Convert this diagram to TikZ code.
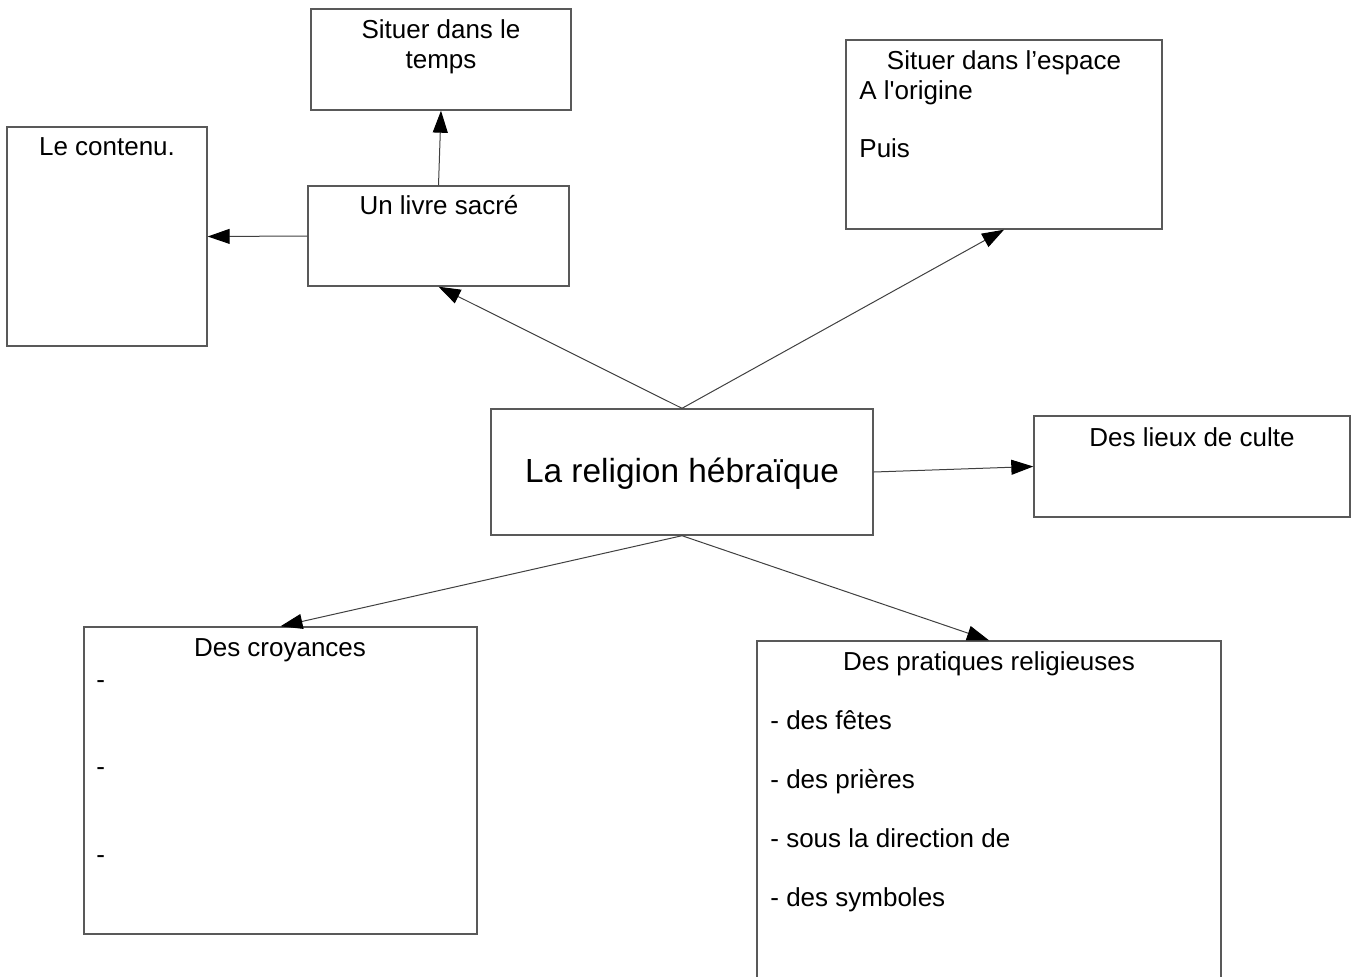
\documentclass[tikz,border=0pt]{standalone}
\usepackage{fontspec}
\setmainfont{Liberation Sans}
\usetikzlibrary{fit,arrows.meta}

\tikzset{
  box/.style={draw=black!65, line width=0.7pt, inner sep=0pt},
  txt/.style={inner sep=0pt, font=\fontsize{13}{15.5}\selectfont},
  link/.style={draw=black!75, line width=0.5pt, -{Triangle[length=11pt,width=7.5pt,black]}}
}

\begin{document}
\begin{tikzpicture}[x=0.5pt, y=-0.5pt]
    \useasboundingbox (0,0) rectangle (1359,976);
    % boxes
    \node[box, fit={(311,9) (571,110)}] (temps) {};
    \node[box, fit={(7,127) (207,346)}] (contenu) {};
    \node[box, fit={(308,186) (569,286)}] (livre) {};
    \node[box, fit={(846,40) (1162,229)}] (espace) {};
    \node[box, fit={(491,409) (873,535)}] (religion) {};
    \node[box, fit={(1034,416) (1350,517)}] (lieux) {};
    \node[box, fit={(84,627) (477,934)}] (croyances) {};
    \node[box, fit={(757,641) (1221,992)}] (pratiques) {};

    % texts
    \node[txt, anchor=base] (tempsA) at (441,38) {Situer dans le};
    \node[txt, anchor=base] (tempsB) at (441,68) {temps};
    \node[txt, anchor=base] (contenuT) at (107,155) {Le contenu.};
    \node[txt, anchor=base] (livreT) at (439,214) {Un livre sacré};
    \node[txt, anchor=base] (espaceT) at (1004,69) {Situer dans l’espace};
    \node[txt, anchor=base west] (espaceA) at (859,99) {A l\textquotesingle origine};
    \node[txt, anchor=base west] (espaceB) at (859,157) {Puis};
    \node[txt, anchor=base, font=\fontsize{16.7}{19}\selectfont] (religionT) at (682,482) {La religion hébraïque};
    \node[txt, anchor=base] (lieuxT) at (1192,446) {Des lieux de culte};
    \node[txt, anchor=base] (croyancesT) at (280,656) {Des croyances};
    \foreach \i in {0,1,2}{
      \node[txt, anchor=base west] (tiret\i) at (96,{688+87.5*\i}) {-};
    }
    \node[txt, anchor=base] (pratiquesT) at (989,670) {Des pratiques religieuses};
    \foreach \entry [count=\i from 0] in {des fêtes,des prières,sous la direction de,des symboles}{
      \node[txt, anchor=base west] (prat\i) at (770,{729+59*\i}) {- \entry};
    }

    % arrows
    \draw[link] (livre.north) -- (temps.south);
    \draw[link] (livre.west) -- (contenu.east);
    \draw[link] (religion.north) -- (livre.south);
    \draw[link] (religion.north) -- (espace.south);
    \draw[link] (religion.east) -- (lieux.west);
    \draw[link] (religion.south) -- (croyances.north);
    \draw[link] (religion.south) -- (pratiques.north);
  \end{tikzpicture}
\end{document}
